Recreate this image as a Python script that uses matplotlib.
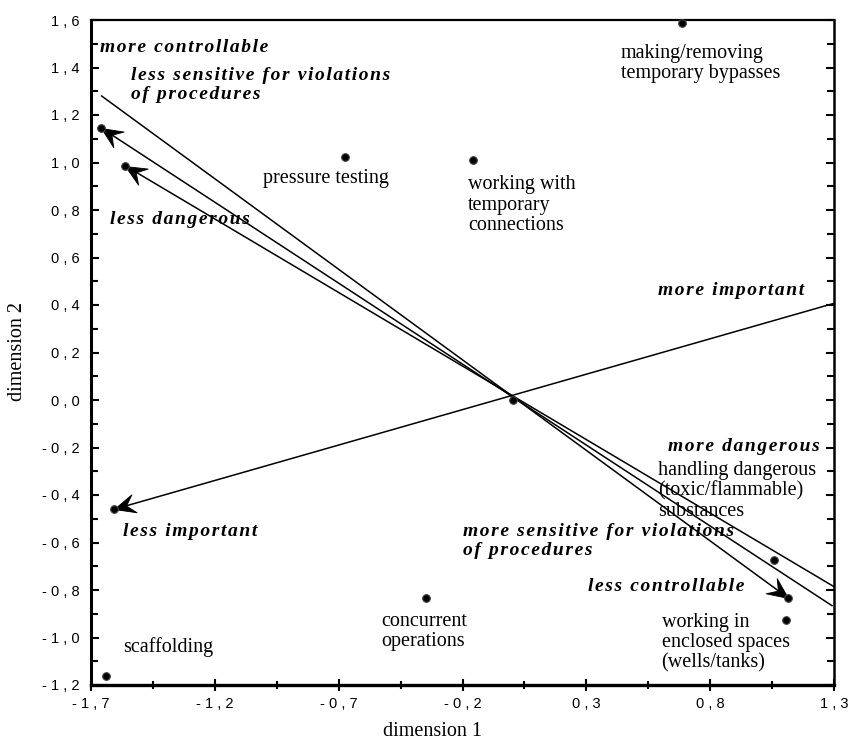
import numpy as np
import matplotlib
matplotlib.use('Agg')
import matplotlib.pyplot as plt
from matplotlib.path import Path
from matplotlib.markers import MarkerStyle
from matplotlib.transforms import Affine2D
from matplotlib.ticker import FixedLocator, FuncFormatter

# activity points (dimension 1, dimension 2)
activity_names = ['making/removing\ntemporary bypasses', 'pressure testing',
                  'working with\ntemporary\nconnections', 'scaffolding',
                  'concurrent\noperations', 'handling dangerous\n(toxic/flammable)\nsubstances',
                  'working in\nenclosed spaces\n(wells/tanks)', 'origin']
activity_x = [0.685, -0.673, -0.156, -1.639, -0.346, 1.059, 1.105, 0.005]
activity_y = [1.589, 1.025, 1.012, -1.161, -0.832, -0.674, -0.926, 0.0]

# property vectors: start / end of fitted direction, and which end carries the arrow
vector_names = ['controllable', 'sensitive for violations', 'dangerous', 'important']
vector_x0 = [-1.657, -1.661, -1.563, -1.606]
vector_y0 = [1.280, 1.147, 0.987, -0.460]
vector_x1 = [1.113, 1.292, 1.300, 1.300]
vector_y1 = [-0.832, -0.866, -0.786, 0.407]
arrow_end = ['end', 'start', 'start', 'start']

x_ticks = [-1.7, -1.2, -0.7, -0.2, 0.3, 0.8, 1.3]
y_ticks = [-1.2, -1.0, -0.8, -0.6, -0.4, -0.2, 0.0, 0.2, 0.4, 0.6, 0.8, 1.0, 1.2, 1.4, 1.6]

SERIF = ['Liberation Serif', 'DejaVu Serif']
SANS = ['Liberation Sans', 'DejaVu Sans']


def spaced(s, sep='\u200a'):
    # letter-spaced bold italic labels like the original
    return '\n'.join(sep.join(line) for line in s.split('\n'))


def tick_fmt(v, pos):
    s = f"{round(v, 1):.1f}".replace('.', ',')
    if s == '-0,0':
        s = '0,0'
    return ' '.join(s)


fig = plt.figure(figsize=(8.48, 7.45), dpi=100)
ax = fig.add_axes([91 / 848, 1 - 685 / 745, 743 / 848, 665 / 745])
ax.set_xlim(-1.7, 1.3)
ax.set_ylim(-1.2, 1.6)

# vectors
for i in range(len(vector_names)):
    ax.plot([vector_x0[i], vector_x1[i]], [vector_y0[i], vector_y1[i]],
            color='black', lw=1.1, zorder=2)

# arrow heads (custom notched head, rotated in display space)
head = Path([(0, 0), (-1, 0.45), (-0.6, 0), (-1, -0.45), (0, 0)],
            [Path.MOVETO, Path.LINETO, Path.LINETO, Path.LINETO, Path.CLOSEPOLY])
tips_x, tips_y = [], []
for i in range(len(vector_names)):
    if arrow_end[i] == 'end':
        tip = (vector_x1[i], vector_y1[i]); tail = (vector_x0[i], vector_y0[i])
    else:
        tip = (vector_x0[i], vector_y0[i]); tail = (vector_x1[i], vector_y1[i])
    p_tip = ax.transData.transform(tip)
    p_tail = ax.transData.transform(tail)
    ang = np.arctan2(p_tip[1] - p_tail[1], p_tip[0] - p_tail[0])
    m = MarkerStyle(head, transform=Affine2D().rotate(ang))
    ax.plot([tip[0]], [tip[1]], marker=m, ms=30, color='black', mec='black', mew=0.6,
            ls='none', zorder=4, clip_on=False)
    tips_x.append(tip[0]); tips_y.append(tip[1])

# points
ax.plot(activity_x + tips_x, activity_y + tips_y, 'o', ms=5.5, mfc='black', mec='#444444',
        mew=0.8, ls='none', zorder=5, clip_on=False)

# activity labels
act_label_pos = [(0.439, 1.417), (-1.004, 0.931), (-0.177, 0.821), (-1.572, -1.041),
                 (-0.529, -0.976), (0.591, -0.383), (0.604, -1.023)]
for name, (tx, ty) in zip(activity_names[:-1], act_label_pos):
    ax.text(tx, ty, name, family=SERIF, fontsize=14.5, ha='left', va='center',
            linespacing=1.08, zorder=3)

# direction labels
dir_labels = [('more controllable', -1.664, 1.486),
              ('less sensitive for violations\nof procedures', -1.54, 1.326),
              ('less dangerous', -1.623, 0.758),
              ('more important', 0.591, 0.46),
              ('more dangerous', 0.63, -0.197),
              ('more sensitive for violations\nof procedures', -0.199, -0.594),
              ('less controllable', 0.308, -0.786),
              ('less important', -1.572, -0.552)]
for s, tx, ty in dir_labels:
    ax.text(tx, ty, spaced(s), family=SERIF, fontsize=14, fontweight='bold',
            fontstyle='italic', ha='left', va='center', linespacing=1.12, zorder=3)

# axes styling
ax.xaxis.set_major_locator(FixedLocator(x_ticks))
ax.xaxis.set_minor_locator(FixedLocator(np.array(x_ticks[:-1]) + 0.25))
ax.yaxis.set_major_locator(FixedLocator(y_ticks))
ax.yaxis.set_minor_locator(FixedLocator(np.array(y_ticks[:-1]) + 0.1))
ax.xaxis.set_major_formatter(FuncFormatter(tick_fmt))
ax.yaxis.set_major_formatter(FuncFormatter(tick_fmt))

ax.tick_params(axis='x', which='major', direction='inout', length=8, width=1.5, pad=5,
               top=False, labelsize=10.5)
ax.tick_params(axis='x', which='minor', direction='inout', length=6, width=1.5, top=False)
ax.tick_params(axis='y', which='major', direction='in', length=6, width=1.5, pad=8,
               left=True, right=True, labelsize=10.5)
ax.tick_params(axis='y', which='minor', direction='in', length=5, width=1.5,
               left=True, right=True)
for lab in ax.get_xticklabels() + ax.get_yticklabels():
    lab.set_family(SANS)

ax.spines['left'].set_linewidth(2.2)
ax.spines['bottom'].set_linewidth(2.4)
ax.spines['right'].set_linewidth(1.8)
ax.spines['top'].set_linewidth(1.6)

fig.text(432.5 / 848, 1 - 732 / 745, 'dimension 1', family=SERIF, fontsize=14.5,
         ha='center', va='center')
fig.text(18 / 848, 1 - 352 / 745, 'dimension 2', family=SERIF, fontsize=14.5,
         ha='center', va='center', rotation=90)

fig.savefig('out.png', dpi=100)
